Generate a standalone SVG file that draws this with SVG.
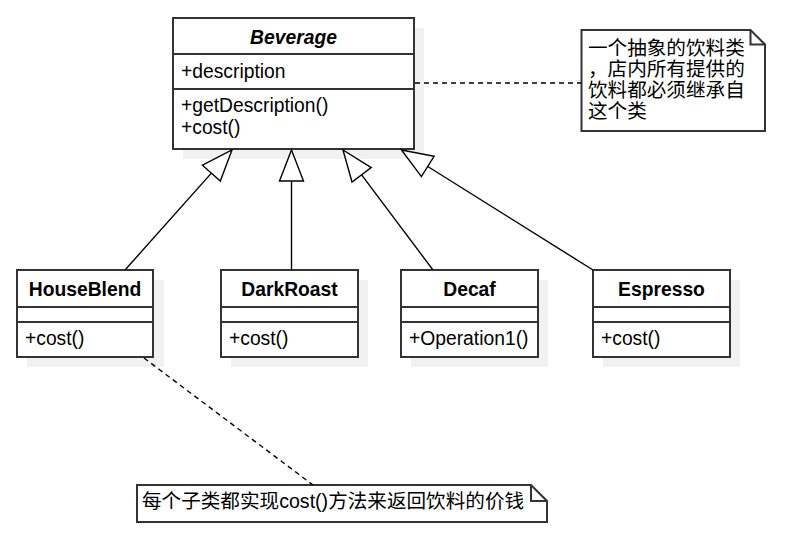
<svg xmlns="http://www.w3.org/2000/svg" width="792" height="536" viewBox="0 0 792 536">
  <style>
    .shadow { fill: #f1f1f1; stroke: none; }
    .box { fill: #ffffff; stroke: #333333; stroke-width: 2; }
    .div { stroke: #333333; stroke-width: 2; fill: none; }
    .t { font-family: "Liberation Sans", Arial, "Noto Sans CJK SC", sans-serif; font-size: 19.3px; fill: #000000; }
    .title { font-weight: bold; text-anchor: middle; }
    .note { font-family: "Liberation Sans", "Noto Sans CJK SC", sans-serif; font-size: 19.6px; fill: #000000; }
    .edge { stroke: #000000; stroke-width: 1.4; fill: none; }
    .dash { stroke: #000000; stroke-width: 1.4; fill: none; stroke-dasharray: 5 4; }
    .head { fill: #ffffff; stroke: #000000; stroke-width: 1.4; stroke-linejoin: miter; }
  </style>
  <rect width="792" height="536" fill="#ffffff"/>

  <g id="Beverage">
    <rect class="shadow" x="183" y="28" width="241" height="131"/>
    <rect class="box" x="173" y="18" width="241" height="131"/>
    <line class="div" x1="173" y1="54" x2="414" y2="54"/>
    <line class="div" x1="173" y1="89" x2="414" y2="89"/>
    <text class="t title" x="293.5" y="44" font-style="italic">Beverage</text>
    <text class="t" x="181" y="78">+description</text>
    <text class="t" x="181" y="112">+getDescription()</text>
    <text class="t" x="181" y="134">+cost()</text>
  </g>

  <g id="HouseBlend">
    <rect class="shadow" x="27" y="280" width="137" height="87"/>
    <rect class="box" x="17" y="270" width="136" height="87"/>
    <line class="div" x1="17" y1="307" x2="153" y2="307"/>
    <line class="div" x1="17" y1="322" x2="153" y2="322"/>
    <text class="t title" x="85" y="296">HouseBlend</text>
    <text class="t" x="25" y="345">+cost()</text>
  </g>

  <g id="DarkRoast">
    <rect class="shadow" x="231" y="280" width="137" height="87"/>
    <rect class="box" x="221" y="270" width="137" height="87"/>
    <line class="div" x1="221" y1="307" x2="358" y2="307"/>
    <line class="div" x1="221" y1="322" x2="358" y2="322"/>
    <text class="t title" x="289.5" y="296">DarkRoast</text>
    <text class="t" x="229" y="345">+cost()</text>
  </g>

  <g id="Decaf">
    <rect class="shadow" x="411" y="280" width="137" height="87"/>
    <rect class="box" x="401" y="270" width="137" height="87"/>
    <line class="div" x1="401" y1="307" x2="538" y2="307"/>
    <line class="div" x1="401" y1="322" x2="538" y2="322"/>
    <text class="t title" x="469.5" y="296">Decaf</text>
    <text class="t" x="409" y="345">+Operation1()</text>
  </g>

  <g id="Espresso">
    <rect class="shadow" x="603" y="280" width="137" height="87"/>
    <rect class="box" x="593" y="270" width="137" height="87"/>
    <line class="div" x1="593" y1="307" x2="730" y2="307"/>
    <line class="div" x1="593" y1="322" x2="730" y2="322"/>
    <text class="t title" x="661.5" y="296">Espresso</text>
    <text class="t" x="601" y="345">+cost()</text>
  </g>

  <g id="note-abstract">
    <path class="box" d="M581.5,30 H750.5 L765,44.5 V131 H581.5 Z"/>
    <path class="div" d="M750.5,30 V44.5 H765"/>
    <text class="note" x="588" y="55">一个抽象的饮料类</text>
    <text class="note" x="588" y="76">，店内所有提供的</text>
    <text class="note" x="588" y="97">饮料都必须继承自</text>
    <text class="note" x="588" y="118">这个类</text>
  </g>

  <g id="note-cost">
    <path class="box" d="M137,485 H531 L547,501 V522 H137 Z"/>
    <path class="div" d="M531,485 V501 H547"/>
    <text class="note" x="142" y="508" font-size="19.3">每个子类都实现cost()方法来返回饮料的价钱</text>
  </g>

  <g id="connectors">
    <line class="edge" x1="211.4" y1="173.1" x2="125" y2="270"/>
    <polygon class="head" points="232,150 220.3,181.1 202.4,165.2"/>
    <line class="edge" x1="291.5" y1="181" x2="291.5" y2="270"/>
    <polygon class="head" points="291.5,150 303.5,181 279.5,181"/>
    <line class="edge" x1="361.6" y1="174.8" x2="433" y2="270"/>
    <polygon class="head" points="343,150 371.2,167.6 352,182"/>
    <line class="edge" x1="427.8" y1="166.5" x2="593" y2="270"/>
    <polygon class="head" points="401.5,150 434.1,156.3 421.4,176.6"/>
    <line class="dash" x1="415" y1="83" x2="581" y2="83"/>
    <line class="dash" x1="144" y1="358" x2="313" y2="485"/>
  </g>
</svg>
